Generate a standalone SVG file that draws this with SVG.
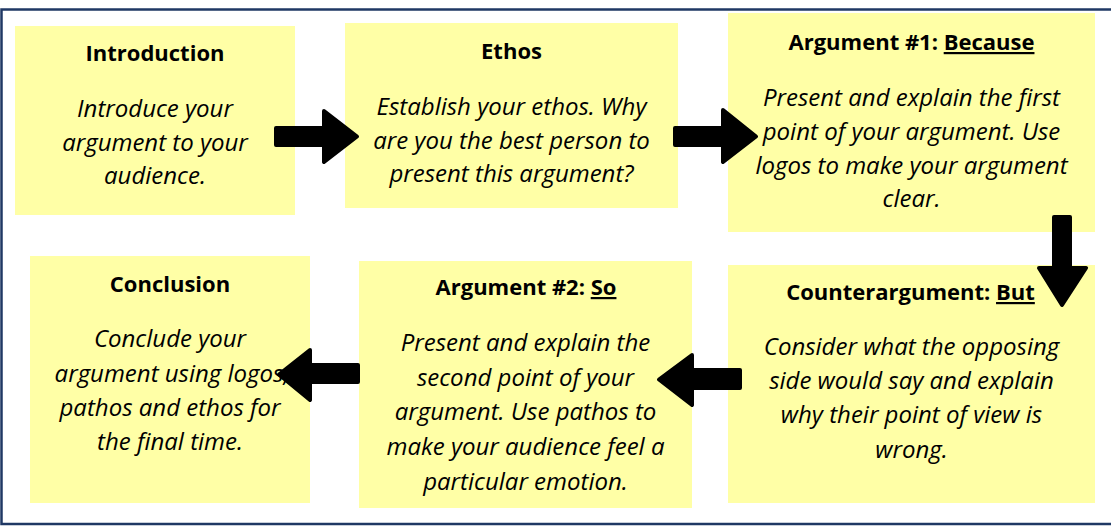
<svg xmlns="http://www.w3.org/2000/svg" width="1111" height="526" viewBox="0 0 1111 526">
<style>
.box{fill:#FFFFA6;}
.t{font-family:"Open Sans","Noto Sans","Liberation Sans",sans-serif;font-weight:bold;font-size:22px;fill:#000;text-anchor:middle;}
.b{font-family:"Open Sans","Noto Sans","Liberation Sans",sans-serif;font-style:italic;font-size:24px;fill:#000;text-anchor:middle;}
.u{text-decoration:underline;}
.arr{fill:#000;stroke:#000;stroke-width:4;stroke-linejoin:round;}
</style>
<rect x="0" y="0" width="1111" height="526" fill="#fff"/>
<rect x="1.5" y="9.5" width="1115" height="514.5" fill="none" stroke="#1F3864" stroke-width="2.5"/>

<g id="introduction">
<rect class="box" x="15" y="26" width="280" height="189"/>
<text class="t" x="155" y="61">Introduction</text>
<text class="b" x="155" y="117">Introduce your</text>
<text class="b" x="155" y="150.5">argument to your</text>
<text class="b" x="155" y="184">audience.</text>
</g>

<g id="ethos">
<rect class="box" x="345" y="23" width="333" height="185"/>
<text class="t" x="511.5" y="58.5">Ethos</text>
<text class="b" x="511.5" y="115">Establish your ethos. Why</text>
<text class="b" x="511.5" y="148.5">are you the best person to</text>
<text class="b" x="511.5" y="182">present this argument?</text>
</g>

<g id="argument1">
<rect class="box" x="728" y="13" width="367" height="219"/>
<text class="t" x="911.5" y="50">Argument #1: <tspan class="u">Because</tspan></text>
<text class="b" x="911.5" y="106">Present and explain the first</text>
<text class="b" x="911.5" y="140">point of your argument. Use</text>
<text class="b" x="911.5" y="173.5">logos to make your argument</text>
<text class="b" x="911.5" y="207">clear.</text>
</g>

<g id="counterargument">
<rect class="box" x="728" y="265" width="367" height="238"/>
<text class="t" x="910.5" y="300">Counterargument: <tspan class="u">But</tspan></text>
<text class="b" x="911.5" y="355">Consider what the opposing</text>
<text class="b" x="911.5" y="389">side would say and explain</text>
<text class="b" x="911.5" y="423">why their point of view is</text>
<text class="b" x="911.5" y="458">wrong.</text>
</g>

<g id="argument2">
<rect class="box" x="359" y="261" width="333" height="247"/>
<text class="t" x="526" y="295">Argument #2: <tspan class="u">So</tspan></text>
<text class="b" x="525.5" y="351">Present and explain the</text>
<text class="b" x="525.5" y="386">second point of your</text>
<text class="b" x="525.5" y="420">argument. Use pathos to</text>
<text class="b" x="525.5" y="455">make your audience feel a</text>
<text class="b" x="525.5" y="490">particular emotion.</text>
</g>

<g id="conclusion">
<rect class="box" x="30" y="256" width="280" height="247"/>
<text class="t" x="170" y="292">Conclusion</text>
<text class="b" x="170" y="347">Conclude your</text>
<text class="b" x="172" y="382">argument using logos,</text>
<text class="b" x="170" y="415.5">pathos and ethos for</text>
<text class="b" x="170" y="450">the final time.</text>
</g>

<g id="connectors">
<path class="arr" d="M276,128 H324 V111 L357,136.5 L324,162 V145 H276 Z"/>
<path class="arr" d="M675,128 H723 V110 L756,136.5 L723,162 V145 H675 Z"/>
<path class="arr" d="M1054,217 V268 H1039 L1062,305 L1086,268 H1070 V217 Z"/>
<path class="arr" d="M740,370 H692 V355 L659,379.5 L692,405 V388 H740 Z"/>
<path class="arr" d="M358,365 H310 V350 L279,374.5 L310,400 V382 H358 Z"/>
</g>
</svg>
